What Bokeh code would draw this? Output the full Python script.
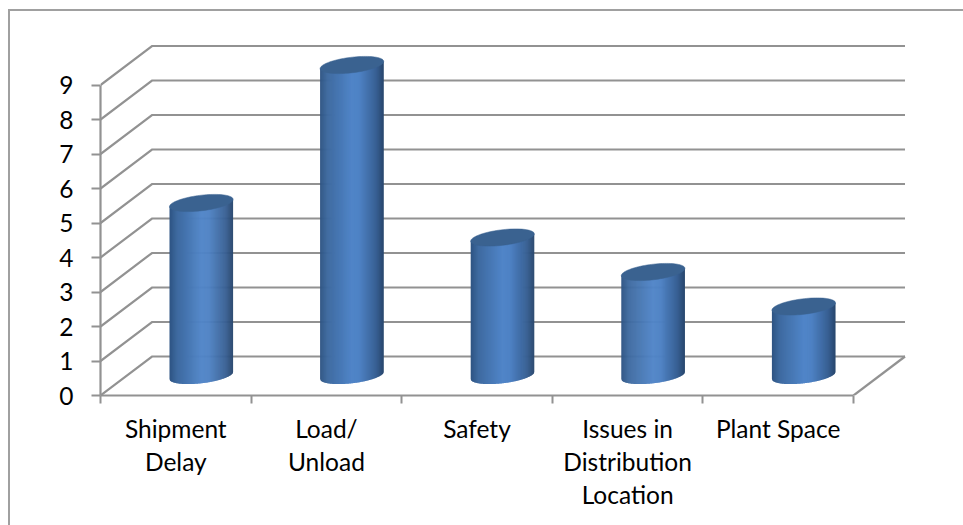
import numpy as np
from bokeh.embed import file_html
from bokeh.models import ColumnDataSource, FixedTicker, InlineStyleSheet, LinearAxis, Range1d
from bokeh.plotting import figure
from bokeh.resources import INLINE

# Chart data
categories = ["Shipment\nDelay", "Load/\nUnload", "Safety", "Issues in\nDistribution\nLocation", "Plant Space"]
values = [5, 9, 4, 3, 2]
y_ticks = [0, 1, 2, 3, 4, 5, 6, 7, 8, 9]

# Pixel layout of the plot frame and its scale
WIDTH, HEIGHT = 963, 525
LEFT, RIGHT, TOP, BOTTOM = 100, 912, 40, 395
PX_PER_CAT = 150.6
PX_PER_UNIT = 34.5
x_max = (RIGHT - LEFT) / PX_PER_CAT
y_max = (BOTTOM - TOP) / PX_PER_UNIT

# Oblique depth of the floor and back wall, in data units
DEPTH_X = 51.5 / PX_PER_CAT
DEPTH_Y = 39 / PX_PER_UNIT
GRID = "#929292"

# Chart area border: only the top and left edges show, the rest runs off the page
border_css = InlineStyleSheet(css="""
:host::after {
  content: "";
  position: absolute;
  left: 8px; top: 9px; right: 0; bottom: 0;
  border-left: 2px solid #a0a0a0;
  border-top: 2px solid #a0a0a0;
  pointer-events: none;
  z-index: 5;
}
""")

p = figure(
    width=WIDTH, height=HEIGHT, output_backend="svg", toolbar_location=None,
    x_range=Range1d(0, x_max), y_range=Range1d(0, y_max),
    x_axis_type=None, y_axis_type=None,
    min_border_left=LEFT, min_border_right=WIDTH - RIGHT,
    min_border_top=TOP, min_border_bottom=HEIGHT - BOTTOM,
    outline_line_color=None, background_fill_color="white", border_fill_color="white",
    stylesheets=[border_css],
)
p.grid.visible = False

# Back wall and side wall gridlines
n_cat = len(categories)
wall_xs, wall_ys = [], []
for v in y_ticks:
    wall_xs.append([0, DEPTH_X, n_cat + DEPTH_X])
    wall_ys.append([v, v + DEPTH_Y, v + DEPTH_Y])
p.multi_line(wall_xs, wall_ys, line_color=GRID, line_width=2.2, line_join="miter")
# Right edge of the floor
p.line([n_cat, n_cat + DEPTH_X], [0, DEPTH_Y], line_color=GRID, line_width=2.2)

# Cylinders: vertical strips give the shaded body, a sheared ellipse closes the top
HALF_W = 31.8 / PX_PER_CAT
MINOR = 7.8 / PX_PER_UNIT
SHEAR = 3.6 / PX_PER_UNIT
X_OFF = 25.5 / PX_PER_CAT
Y_OFF = 20 / PX_PER_UNIT
N_STRIPS = 64
SHADE_STOPS = [0.0, 0.12, 0.5, 0.62, 0.88, 1.0]
SHADE_RGB = np.array([
    [46, 84, 130], [62, 106, 160], [80, 133, 200],
    [78, 130, 196], [56, 96, 148], [40, 70, 108],
])


def shade(t):
    rgb = [np.interp(t, SHADE_STOPS, SHADE_RGB[:, i]) for i in range(3)]
    return "#%02x%02x%02x" % tuple(int(round(c)) for c in rgb)


strip_xs, strip_ys, strip_colors = [], [], []
top_xs, top_ys = [], []
angle = np.linspace(0, 2 * np.pi, 90)
for i, v in enumerate(values):
    cx = i + 0.5 + X_OFF
    base = Y_OFF
    crown = v + Y_OFF
    for k in range(N_STRIPS):
        u = np.linspace(-1 + 2 * k / N_STRIPS, min(1, -1 + 2 * (k + 1.6) / N_STRIPS), 4)
        lower = base + SHEAR * u - MINOR * np.sqrt(1 - np.clip(u, -1, 1) ** 2)
        upper = crown + SHEAR * u
        strip_xs.append(list(cx + HALF_W * u) + list(cx + HALF_W * u[::-1]))
        strip_ys.append(list(lower) + list(upper[::-1]))
        strip_colors.append(shade((k + 0.5) / N_STRIPS))
    top_xs.append(list(cx + HALF_W * np.cos(angle)))
    top_ys.append(list(crown + SHEAR * np.cos(angle) + MINOR * np.sin(angle)))

p.patches(source=ColumnDataSource(dict(xs=strip_xs, ys=strip_ys, color=strip_colors)),
          xs="xs", ys="ys", fill_color="color", line_color=None)
p.patches(top_xs, top_ys, fill_color="#3a6290", line_color="#3a6290", line_width=0.5)

# Axes
FONT = "Lato"
FONT_SIZE = "24.5px"

y_axis = LinearAxis(
    ticker=FixedTicker(ticks=y_ticks), bounds=(0, max(y_ticks)),
    axis_line_color=GRID, axis_line_width=2.2,
    major_tick_line_color=GRID, major_tick_line_width=2,
    major_tick_in=0, major_tick_out=9, minor_tick_line_color=None,
    major_label_text_font=FONT, major_label_text_font_size=FONT_SIZE,
    major_label_text_color="black", major_label_standoff=18,
)
p.add_layout(y_axis, "left")

x_positions = [i + 0.5 for i in range(n_cat)]
x_axis = LinearAxis(
    ticker=FixedTicker(ticks=x_positions, minor_ticks=list(range(n_cat + 1))),
    major_label_overrides=dict(zip(x_positions, categories)),
    bounds=(0, n_cat),
    axis_line_color=GRID, axis_line_width=2.2,
    major_tick_line_color=None,
    minor_tick_line_color=GRID, minor_tick_line_width=2,
    minor_tick_in=0, minor_tick_out=8,
    major_label_text_font=FONT, major_label_text_font_size=FONT_SIZE,
    major_label_text_color="black", major_label_standoff=10,
    major_label_text_line_height=1.15,
)
p.add_layout(x_axis, "below")

open("out.html", "w").write(file_html(p, INLINE))
